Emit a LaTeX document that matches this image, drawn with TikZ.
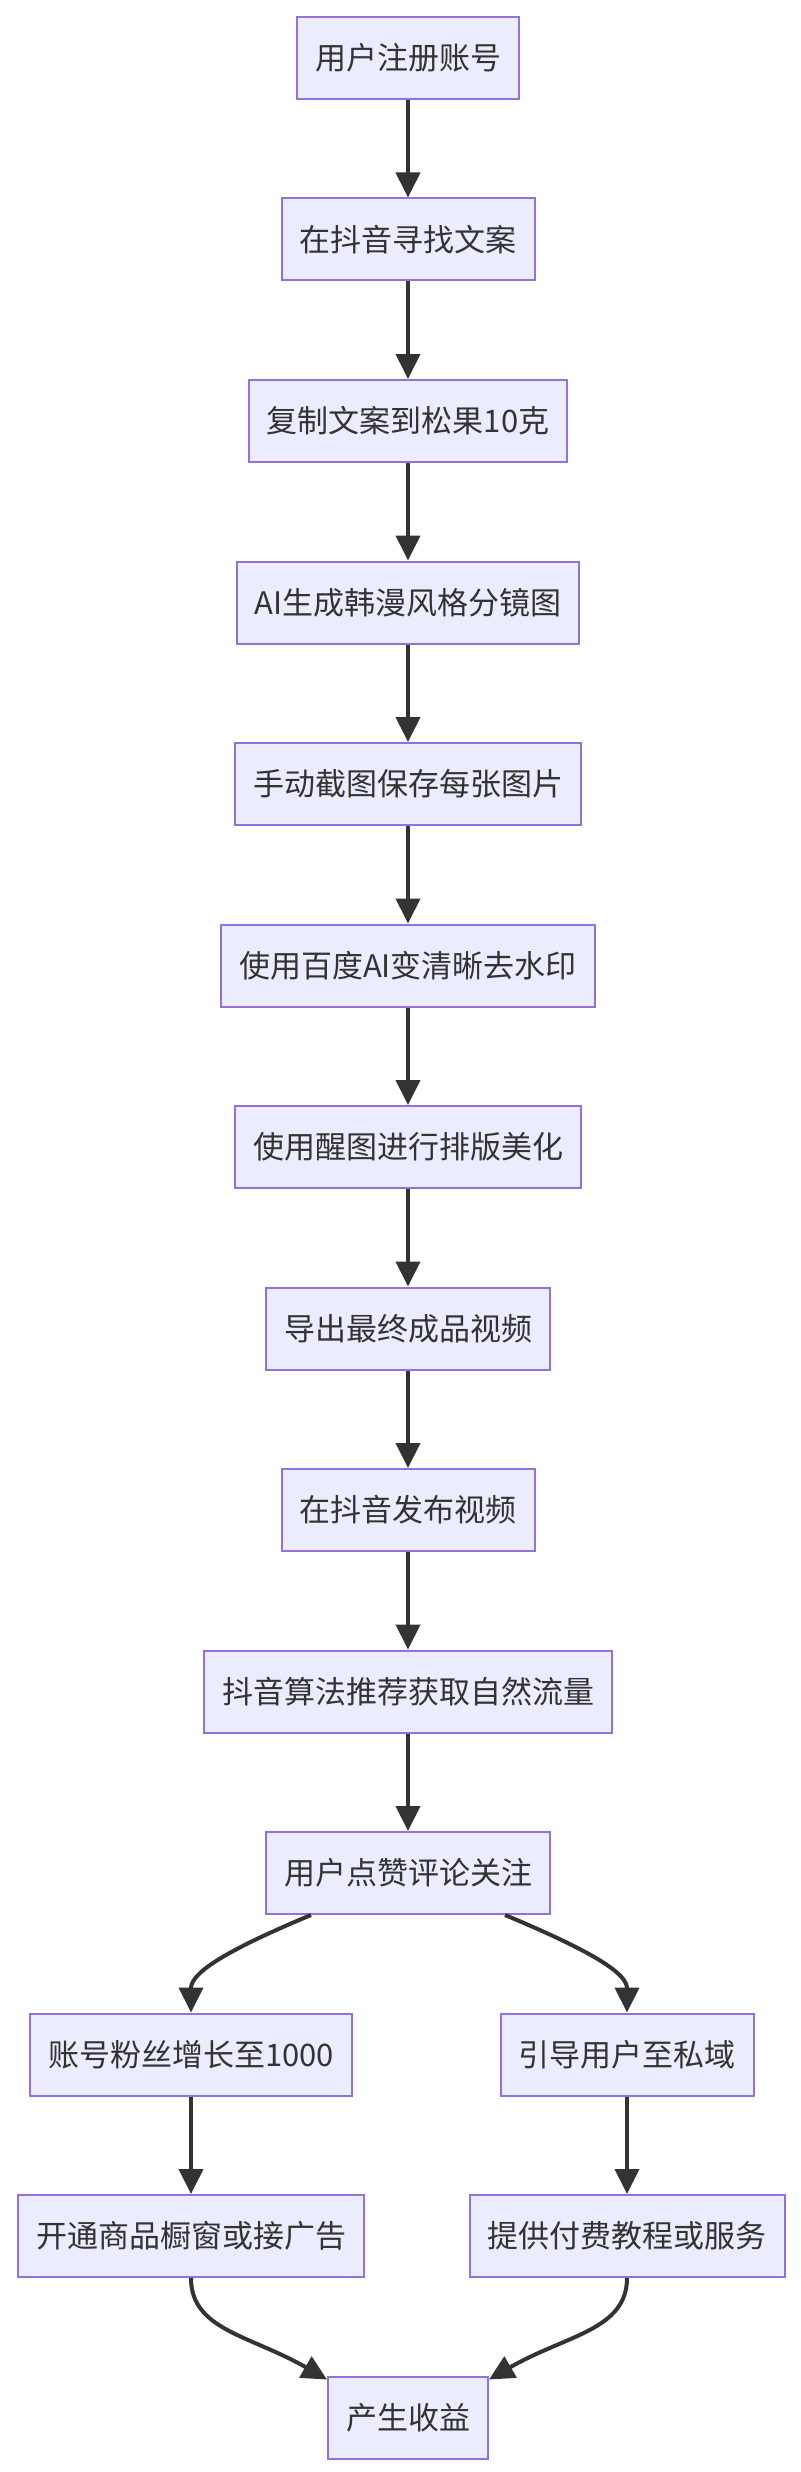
\documentclass[tikz,border=0pt]{standalone}
\usepackage{fontspec}
\setmainfont{Noto Sans CJK SC}
\usepackage{tikz}
\usetikzlibrary{arrows.meta,positioning}
\definecolor{cfill}{HTML}{ECECFF}
\definecolor{cline}{HTML}{9370DB}
\definecolor{ctext}{HTML}{333333}
\begin{document}
\begin{tikzpicture}[x=1pt,y=-1pt,
    flowbox/.style={draw=cline, fill=cfill, line width=2pt, text=ctext,
      font=\fontsize{31}{37}\selectfont, inner xsep=18pt, inner ysep=0pt,
      minimum height=82pt},
    flowarrow/.style={draw=ctext, line width=4pt,
      -{Triangle[length=25pt,width=24pt]}}]
  \useasboundingbox (0,0) rectangle (800,2472);
  % main column
  \node[flowbox] (reg)     at (408,58)     {用户注册账号};
  \node[flowbox] (find)    at (408,239.5)  {在抖音寻找文案};
  \node[flowbox] (copy)    at (408,421)    {复制文案到松果10克};
  \node[flowbox] (aigen)   at (408,602.5)  {AI生成韩漫风格分镜图};
  \node[flowbox] (shot)    at (408,784)    {手动截图保存每张图片};
  \node[flowbox] (clean)   at (408,965.5)  {使用百度AI变清晰去水印};
  \node[flowbox] (layout)  at (408,1147)   {使用醒图进行排版美化};
  \node[flowbox] (export)  at (408,1328.5) {导出最终成品视频};
  \node[flowbox] (publish) at (408,1510)   {在抖音发布视频};
  \node[flowbox] (traffic) at (408,1691.5) {抖音算法推荐获取自然流量};
  \node[flowbox] (engage)  at (408,1873)   {用户点赞评论关注};
  % two branches
  \node[flowbox] (fans)    at (191,2054.5) {账号粉丝增长至1000};
  \node[flowbox] (private) at (627,2054.5) {引导用户至私域};
  \node[flowbox] (shop)    at (191,2236)   {开通商品橱窗或接广告};
  \node[flowbox] (course)  at (627,2236)   {提供付费教程或服务};
  \node[flowbox] (income)  at (408,2417.5) {产生收益};

  \draw[flowarrow] (reg) -- (find);
  \draw[flowarrow] (find) -- (copy);
  \draw[flowarrow] (copy) -- (aigen);
  \draw[flowarrow] (aigen) -- (shot);
  \draw[flowarrow] (shot) -- (clean);
  \draw[flowarrow] (clean) -- (layout);
  \draw[flowarrow] (layout) -- (export);
  \draw[flowarrow] (export) -- (publish);
  \draw[flowarrow] (publish) -- (traffic);
  \draw[flowarrow] (traffic) -- (engage);
  \draw[flowarrow] ([xshift=-97pt]engage.south)
       .. controls (215,1955) and (191,1975) .. (fans.north);
  \draw[flowarrow] ([xshift=97pt]engage.south)
       .. controls (601,1955) and (627,1975) .. (private.north);
  \draw[flowarrow] (fans) -- (shop);
  \draw[flowarrow] (private) -- (course);
  \draw[flowarrow] (shop.south)
       .. controls (191,2330) and (250,2335) .. ([yshift=-4pt]income.north west);
  \draw[flowarrow] (course.south)
       .. controls (627,2330) and (566,2335) .. ([yshift=-4pt]income.north east);
\end{tikzpicture}
\end{document}
